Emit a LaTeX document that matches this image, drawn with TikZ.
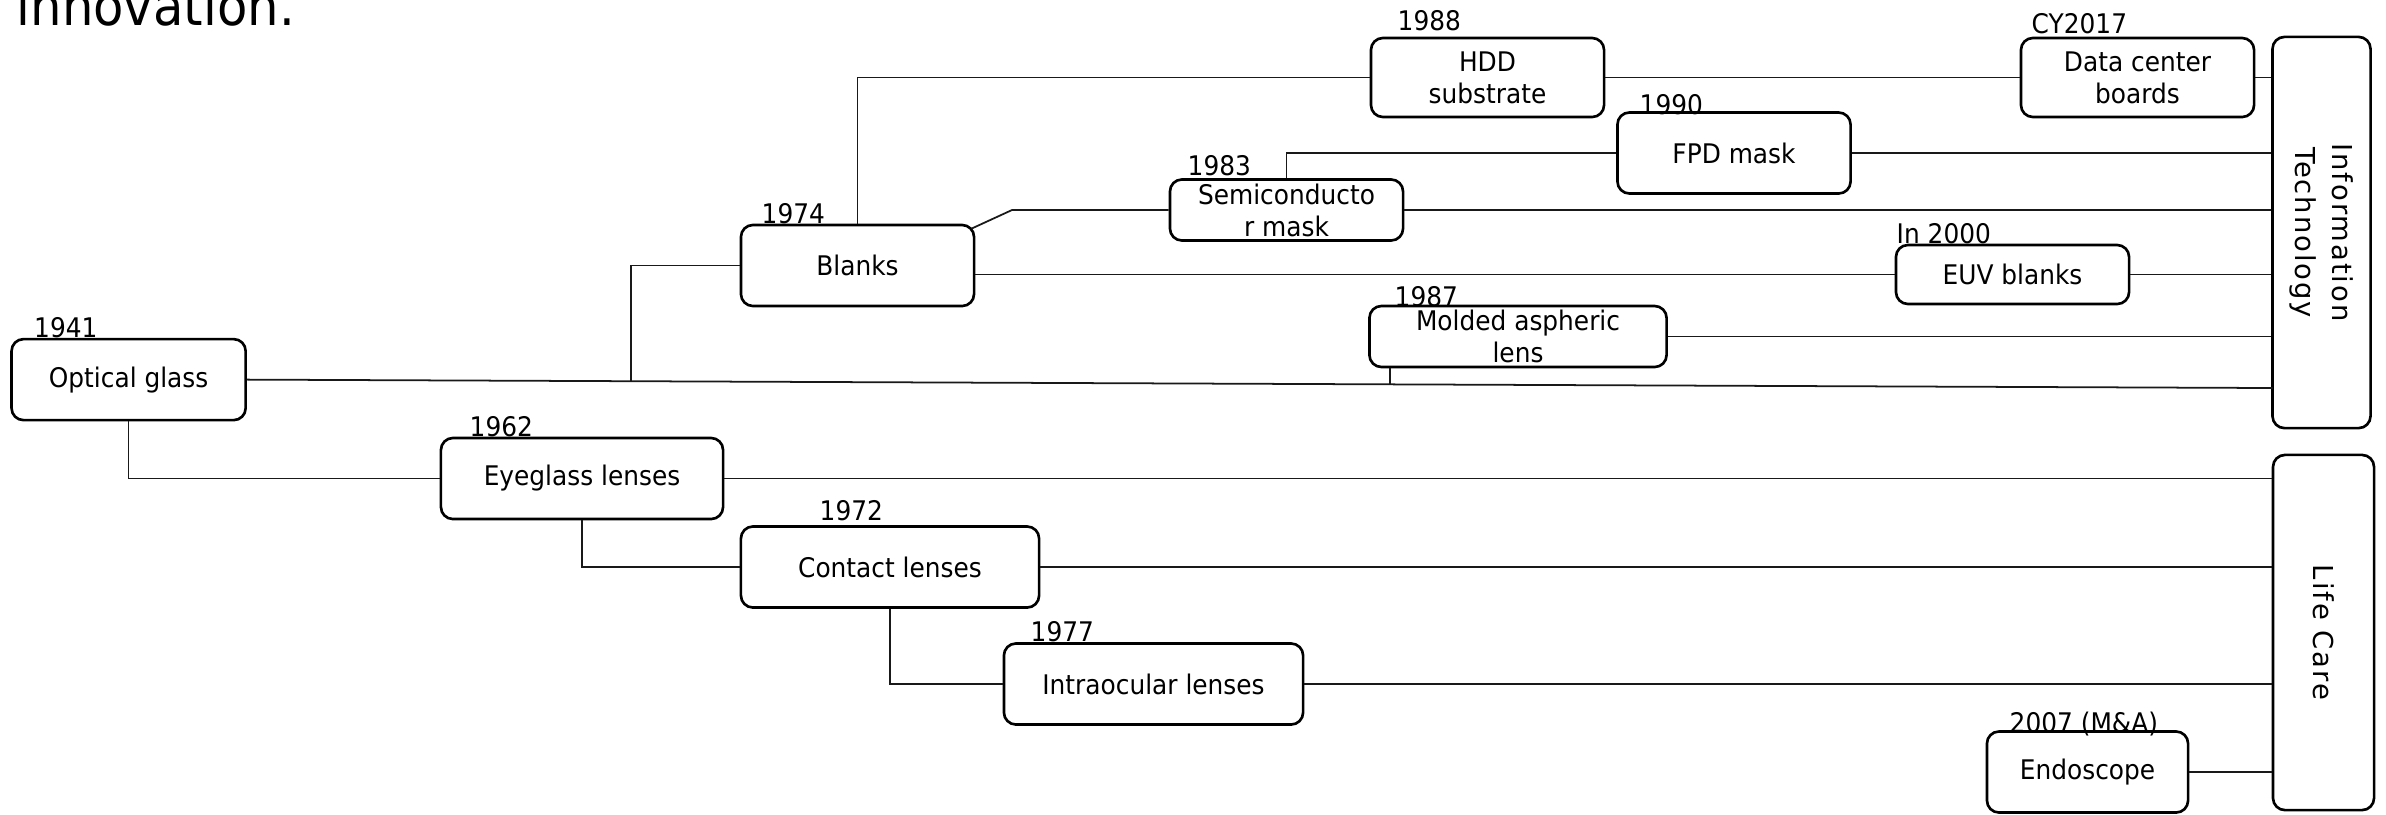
\documentclass[tikz,border=0pt]{standalone}
\usepackage{fontspec}
\usetikzlibrary{calc}
\newfontfamily\lblfont[FakeStretch=0.92]{DejaVu Sans}
\newfontfamily\sidefont[LetterSpace=7]{DejaVu Sans}
\begin{document}
\begin{tikzpicture}[x=0.01cm,y=-0.01cm,
  box/.style={draw=black, line width=0.75pt, rounded corners=0.12cm, fill=white, inner sep=0pt, align=center, font=\lblfont\fontsize{7.68pt}{9.1pt}\selectfont},
  yr/.style={anchor=base west, inner sep=0pt, font=\lblfont\fontsize{7.68pt}{9.1pt}\selectfont},
  conn/.style={line width=0.5pt, draw=black!90},
  side/.style={rotate=-90, align=center, inner sep=0pt, font=\sidefont\fontsize{7.8pt}{10.5pt}\selectfont}]
\useasboundingbox (0,0) rectangle (2386,814);
\fill[white] (0,0) rectangle (2386,814);
\clip (0,0) rectangle (2386,814);

\node[anchor=base west, inner sep=0pt, font=\lblfont\fontsize{15.36pt}{18pt}\selectfont] (title) at (16,25) {innovation.};

% boxes
\node[box, minimum width=2.34cm, minimum height=0.81cm] (opt) at (128.6,379.6) {Optical glass};
\node[box, minimum width=2.33cm, minimum height=0.81cm] (bl) at (857.5,265.5) {Blanks};
\node[box, minimum width=2.82cm, minimum height=0.81cm] (eye) at (582,478.5) {Eyeglass lenses};
\node[box, minimum width=2.98cm, minimum height=0.81cm] (con) at (890,567) {Contact lenses};
\node[box, minimum width=2.99cm, minimum height=0.81cm] (io) at (1153.5,684) {Intraocular lenses};
\node[box, minimum width=2.01cm, minimum height=0.81cm] (endo) at (2087.5,772) {Endoscope};
\node[box, minimum width=2.33cm, minimum height=0.61cm] (semi) at (1286.5,210) {Semiconducto\\r mask};
\node[box, minimum width=2.33cm, minimum height=0.79cm] (hdd) at (1487.5,77.5) {HDD\\substrate};
\node[box, minimum width=2.33cm, minimum height=0.81cm] (fpd) at (1734,153) {FPD mask};
\node[box, minimum width=2.33cm, minimum height=0.79cm] (dc) at (2137.5,77.5) {Data center\\boards};
\node[box, minimum width=2.33cm, minimum height=0.59cm] (euv) at (2012.5,274.5) {EUV blanks};
\node[box, minimum width=2.97cm, minimum height=0.61cm] (mol) at (1518,336.5) {Molded aspheric\\lens};
\node[box, minimum width=0.98cm, minimum height=3.91cm] (it) at (2321.5,232.5) {};
\node[box, minimum width=1.01cm, minimum height=3.55cm] (lc) at (2323.5,632.5) {};
\node[side] (itx) at (it.center) {Information\\Technology};
\node[side] (lcx) at (lc.center) {Life Care};

% years
\node[yr] (y1941) at (33.5,337) {1941};
\node[yr] (y1974) at (761,223) {1974};
\node[yr] (y1962) at (469,436) {1962};
\node[yr] (y1972) at (819,520) {1972};
\node[yr] (y1977) at (1030,641) {1977};
\node[yr] (y2007) at (2009,732) {2007 (M\&A)};
\node[yr] (y1983) at (1187,175) {1983};
\node[yr] (y1988) at (1397,30) {1988};
\node[yr] (y1990) at (1639,114) {1990};
\node[yr] (y2017) at (2031,33) {CY2017};
\node[yr] (y2000) at (1896,243) {In 2000};
\node[yr] (y1987) at (1394,306) {1987};

% connectors
\coordinate (itB) at (2272.5,388);
\draw[conn] (opt.east) -- (itB);
\coordinate (j1) at ($(opt.east)!0.1895!(itB)$);
\coordinate (mj) at ($(opt.east)!0.5644!(itB)$);
\draw[conn] (j1) |- (bl.west);
\draw[conn] (mol.south west -| mj) -- (mj);
\draw[conn] (bl.north) |- (hdd.west);
\draw[conn] (hdd.east) -- (dc.west);
\draw[conn] (dc.east) -- (dc.east -| it.west);
\coordinate (bk) at (1012,210);
\draw[conn] ([xshift=-0.04cm,yshift=-0.05cm]bl.north east) -- (bk) -- (semi.west);
\draw[conn] (semi.north) |- (fpd.west);
\draw[conn] (fpd.east) -- (fpd.east -| it.west);
\draw[conn] (semi.east) -- (semi.east -| it.west);
\draw[conn] (euv.west -| bl.east) -- (euv.west);
\draw[conn] (euv.east) -- (euv.east -| it.west);
\draw[conn] (mol.east) -- (mol.east -| it.west);
\draw[conn] (opt.south) |- (eye.west);
\draw[conn] (eye.east) -- (eye.east -| lc.west);
\draw[conn] (eye.south) |- (con.west);
\draw[conn] (con.east) -- (con.east -| lc.west);
\draw[conn] (con.south) |- (io.west);
\draw[conn] (io.east) -- (io.east -| lc.west);
\draw[conn] (endo.east) -- (endo.east -| lc.west);
\end{tikzpicture}
\end{document}
